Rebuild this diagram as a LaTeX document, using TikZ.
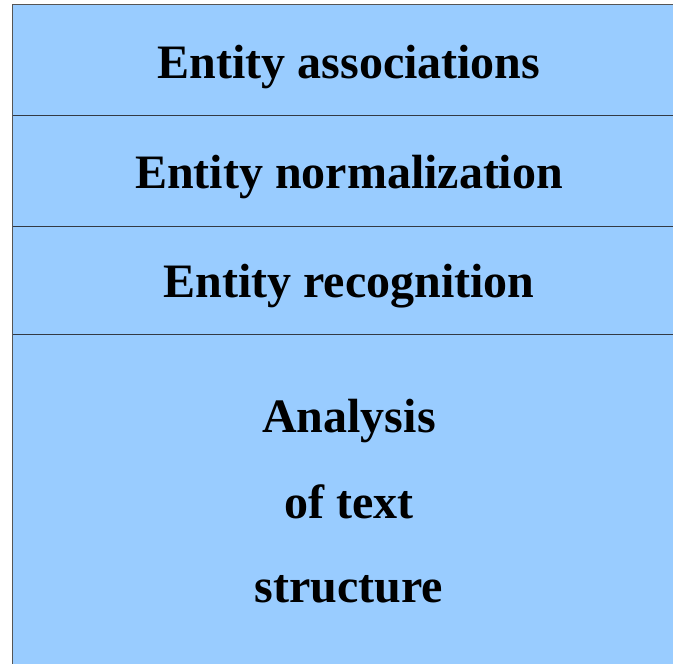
\documentclass[tikz,border=0pt]{standalone}
\usepackage{fontspec}
\setmainfont{Liberation Serif}
\definecolor{layerblue}{HTML}{99CCFF}
\definecolor{frame}{HTML}{555555}
\definecolor{divider}{HTML}{333A44}
\begin{document}
\begin{tikzpicture}[x=1pt,y=1pt,
  layertext/.style={anchor=base,font=\fontsize{48}{58}\selectfont\bfseries,inner sep=0pt}]
\useasboundingbox (0,0) rectangle (673,664);
\begin{scope}
\clip (0,0) rectangle (673,664);
% stacked layers
\fill[layerblue] (12.5,-2) rectangle (690,659.5);
\draw[frame,line width=1.6pt] (12.5,-2) -- (12.5,659.5) -- (690,659.5);
\draw[divider,line width=1pt] (12.5,548) coordinate (d1l) -- (690,548) coordinate (d1r);
\draw[divider,line width=1pt] (12.5,437.5) coordinate (d2l) -- (690,437.5) coordinate (d2r);
\draw[divider,line width=1pt] (12.5,329) coordinate (d3l) -- (690,329) coordinate (d3r);
\end{scope}
\node[layertext] (assoc) at (349,585) {Entity associations};
\node[layertext] (norm) at (349,475) {Entity normalization};
\node[layertext] (recog) at (349,366) {Entity recognition};
\node[layertext] (an1) at (349,231) {Analysis};
\node[layertext] (an2) at (349,145) {of text};
\node[layertext] (an3) at (349,61) {structure};
\end{tikzpicture}
\end{document}
